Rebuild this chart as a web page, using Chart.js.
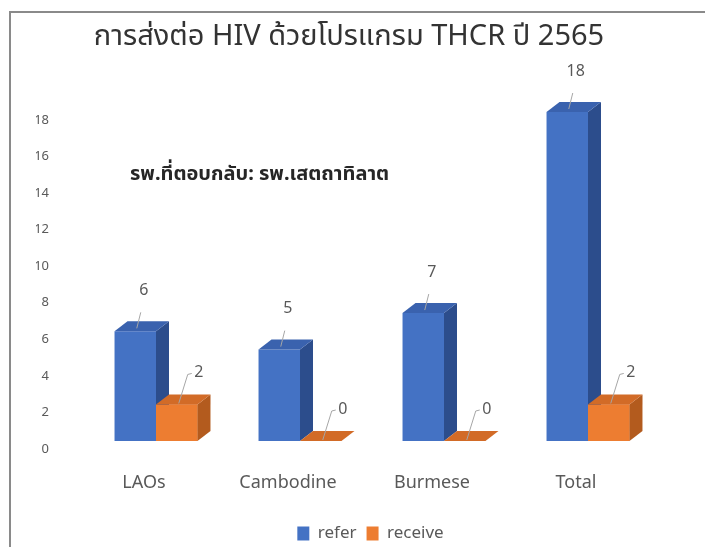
<!DOCTYPE html>
<html>
<head>
<meta charset="utf-8">
<script src="https://cdn.jsdelivr.net/npm/chart.js@4"></script>
<style>
  html, body { margin: 0; padding: 0; background: #fff; overflow: hidden; }
  #frame { position: absolute; left: 9px; top: 11px; width: 720px; height: 560px;
           border-left: 2px solid #8a8a8a; border-top: 2px solid #8a8a8a; }
  #wrap { position: absolute; left: 0; top: 0; width: 705px; height: 547px; }
</style>
</head>
<body>
<div id="frame"></div>
<div id="wrap"><canvas id="chart"></canvas></div>
<script>
// --- data ---
const titleText = 'การส่งต่อ HIV ด้วยโปรแกรม THCR ปี 2565';
const noteText = 'รพ.ที่ตอบกลับ: รพ.เสตถาทิลาต';
const categories = ['LAOs', 'Cambodine', 'Burmese', 'Total'];
const referValues = [6, 5, 7, 18];
const receiveValues = [2, 0, 0, 2];
const yMax = 18;
const yStep = 2;

const FONT = '"Noto Sans", "Noto Sans Thai", Tahoma, sans-serif';
const depth = { x: 13, y: 10 };

function extrude(ctx, bar, ds) {
  const { x, y, base, width } = bar.getProps(['x', 'y', 'base', 'width'], true);
  const l = x - width / 2, r = x + width / 2;
  ctx.fillStyle = ds.sideColor;
  ctx.beginPath();
  ctx.moveTo(r, y);
  ctx.lineTo(r + depth.x, y - depth.y);
  ctx.lineTo(r + depth.x, base - depth.y);
  ctx.lineTo(r, base);
  ctx.closePath();
  ctx.fill();
  ctx.fillStyle = ds.topColor;
  ctx.beginPath();
  ctx.moveTo(l, y);
  ctx.lineTo(l + depth.x, y - depth.y);
  ctx.lineTo(r + depth.x, y - depth.y);
  ctx.lineTo(r, y);
  ctx.closePath();
  ctx.fill();
}

// 3D faces, value labels with leader lines, title and note
const decor = {
  id: 'decor',
  afterDatasetsDraw(chart) {
    const ctx = chart.ctx;
    ctx.save();
    chart.data.datasets.forEach((ds, i) => {
      chart.getDatasetMeta(i).data.forEach(bar => {
        if (i > 0) bar.draw(ctx); // front face again so it sits over the previous bar's side
        extrude(ctx, bar, ds);
      });
    });

    ctx.font = '16px ' + FONT;
    ctx.textAlign = 'center';
    ctx.textBaseline = 'middle';
    ctx.strokeStyle = '#a6a6a6';
    ctx.lineWidth = 1;
    chart.data.datasets.forEach((ds, i) => {
      chart.getDatasetMeta(i).data.forEach((bar, j) => {
        const { x, y } = bar.getProps(['x', 'y'], true);
        let lx, ly;
        if (i === 0) {
          lx = x + depth.x / 2 + 2;
          ly = y - depth.y - 31;
          ctx.beginPath();
          ctx.moveTo(lx - 3, y - depth.y - 9);
          ctx.lineTo(lx - 7, y - 3);
          ctx.stroke();
        } else {
          lx = x + 22;
          ly = y - 32;
          ctx.beginPath();
          ctx.moveTo(lx - 7, ly + 1);
          ctx.lineTo(lx - 11, ly + 2);
          ctx.lineTo(x + 2, y - depth.y / 2 + 4);
          ctx.stroke();
        }
        ctx.fillStyle = '#595959';
        ctx.fillText(String(ds.data[j]), lx, ly);
      });
    });

    ctx.font = '29px ' + FONT;
    ctx.fillStyle = '#333333';
    ctx.fillText(titleText, 349, 37);

    ctx.font = 'bold 20px ' + FONT;
    ctx.textAlign = 'left';
    ctx.fillStyle = '#262626';
    ctx.fillText(noteText, 130, 174);
    ctx.restore();
  }
};

new Chart(document.getElementById('chart'), {
  type: 'bar',
  data: {
    labels: categories,
    datasets: [
      { label: 'refer', data: referValues, backgroundColor: '#4472c4',
        sideColor: '#2c4d8c', topColor: '#3a62ae' },
      { label: 'receive', data: receiveValues, backgroundColor: '#ed7d31',
        sideColor: '#b35b1e', topColor: '#d26b27' }
    ]
  },
  options: {
    responsive: true,
    maintainAspectRatio: false,
    animation: false,
    datasets: { bar: { categoryPercentage: 0.576, barPercentage: 1 } },
    layout: { padding: { left: 36, right: 0, top: 112, bottom: -5 } },
    scales: {
      x: {
        grid: { display: false, drawTicks: false },
        border: { display: false },
        ticks: { color: '#595959', font: { family: FONT, size: 18 }, padding: 31, labelOffset: -12 },
        afterFit: s => { s.height = 74; }
      },
      y: {
        min: 0, max: yMax,
        grid: { display: false, drawTicks: false },
        border: { display: false },
        ticks: { stepSize: yStep, color: '#595959', font: { family: FONT, size: 13 }, padding: 35, labelOffset: 8 },
        afterFit: s => { s.width = 48; }
      },
      // empty right-hand strip so the plot ends where the reference does
      side: {
        type: 'linear', position: 'right', display: true,
        grid: { display: false, drawTicks: false },
        border: { display: false },
        ticks: { display: false },
        afterFit: s => { s.width = 45; }
      }
    },
    plugins: {
      title: { display: false },
      legend: {
        position: 'bottom',
        labels: {
          color: '#595959',
          font: { family: FONT, size: 17 },
          boxWidth: 12, boxHeight: 14,
          sort: (a, b) => a.datasetIndex - b.datasetIndex
        }
      },
      tooltip: { enabled: false }
    }
  },
  plugins: [decor]
});
</script>
</body>
</html>
